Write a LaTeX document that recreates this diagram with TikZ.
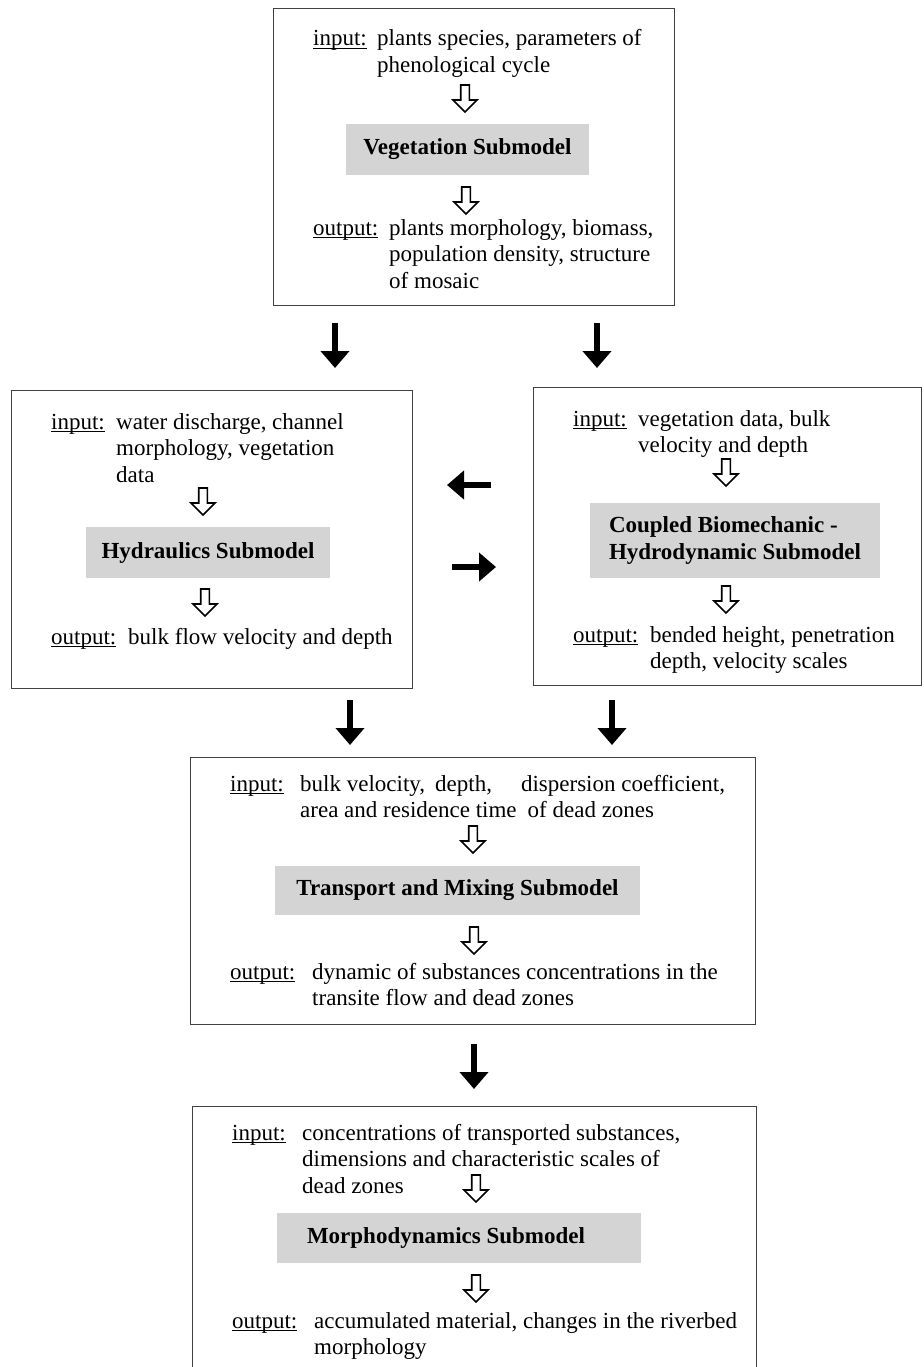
\documentclass[tikz,border=0pt]{standalone}
\usepackage{fontspec}
\setmainfont{Liberation Serif}
\usetikzlibrary{arrows.meta}

\newcommand{\textlines}[1]{\begin{tabular}[t]{@{}l@{}}#1\end{tabular}}
\newcommand{\uword}[1]{\setbox0\hbox{#1}\rlap{\rule[-2.6pt]{\wd0}{0.9pt}}\box0}

\begin{document}
\begin{tikzpicture}[x=1pt, y=-1pt,
    every node/.style={font=\fontsize{23}{26.5}\selectfont, inner sep=0pt},
    frame/.style={draw=black!75, line width=0.9pt},
    subbox/.style={fill=black!17, font=\fontsize{23}{26.5}\selectfont\bfseries},
    txt/.style={anchor=base west},
    bigarrow/.style={line width=6pt, -{Triangle[length=17pt,width=28pt]}},
    openarrow/.pic={\draw[line width=1.6pt, line join=miter, fill=white]
      (-4.3,0) -- (4.3,0) -- (4.3,15) -- (12,15) -- (0,27)
      -- (-12,15) -- (-4.3,15) -- cycle;}]
  \useasboundingbox (0,0) rectangle (923,1367);
  \clip (0,0) rectangle (923,1367);

  % vegetation
  \node[frame, minimum width=401pt, minimum height=297pt] (veg) at (473.5,156.5) {};
  \node[txt] (vegin) at (313,46) {\uword{input:}};
  \node[txt] (vegintxt) at (377,46) {\textlines{plants species, parameters of\\phenological cycle}};
  \pic at (465,85) {openarrow};
  \node[subbox, minimum width=243pt, minimum height=51pt] (vegsub) at (467.5,149.5) {Vegetation Submodel};
  \pic at (466,187) {openarrow};
  \node[txt] (vegout) at (313,235) {\uword{output:}};
  \node[txt] (vegouttxt) at (389,235) {\textlines{plants morphology, biomass,\\population density, structure\\of mosaic}};

  % hydraulics
  \node[frame, minimum width=401pt, minimum height=298pt] (hyd) at (211.5,539) {};
  \node[txt] (hydin) at (51,429) {\uword{input:}};
  \node[txt] (hydintxt) at (116,429) {\textlines{water discharge, channel\\morphology, vegetation\\data}};
  \pic at (203,488) {openarrow};
  \node[subbox, minimum width=244pt, minimum height=51pt] (hydsub) at (208,552.5) {Hydraulics Submodel};
  \pic at (205,589) {openarrow};
  \node[txt] (hydout) at (51,644) {\uword{output:}};
  \node[txt] (hydouttxt) at (128,644) {bulk flow velocity and depth};

  % coupled biomechanic - hydrodynamic
  \node[frame, minimum width=388pt, minimum height=298pt] (cpl) at (727,536) {};
  \node[txt] (cplin) at (573,426) {\uword{input:}};
  \node[txt] (cplintxt) at (638,426) {\textlines{vegetation data, bulk\\velocity and depth}};
  \pic at (726,459) {openarrow};
  \node[subbox, align=left, minimum width=290pt, minimum height=75pt] (cplsub) at (735,540.5) {Coupled Biomechanic -\\Hydrodynamic Submodel};
  \pic at (726,586) {openarrow};
  \node[txt] (cplout) at (573,642) {\uword{output:}};
  \node[txt] (cplouttxt) at (650,642) {\textlines{bended height, penetration\\depth, velocity scales}};

  % transport and mixing
  \node[frame, minimum width=565pt, minimum height=267pt] (trm) at (472.5,890.5) {};
  \node[txt] (trmin) at (230,791) {\uword{input:}};
  \node[txt] (trmintxt) at (300,791) {\textlines{bulk velocity,\hspace{10pt}depth,\hspace{29pt}dispersion coefficient,\\area and residence time\hspace{11pt}of dead zones}};
  \pic at (473,826) {openarrow};
  \node[subbox, minimum width=365pt, minimum height=49pt] (trmsub) at (457.5,890.5) {Transport and Mixing Submodel};
  \pic at (474,927) {openarrow};
  \node[txt] (trmout) at (230,979) {\uword{output:}};
  \node[txt] (trmouttxt) at (312,979) {\textlines{dynamic of substances concentrations in the\\transite flow and dead zones}};

  % morphodynamics
  \node[frame, minimum width=564pt, minimum height=300pt] (mor) at (474,1256) {};
  \node[txt] (morin) at (232,1140) {\uword{input:}};
  \node[txt] (morintxt) at (302,1140) {\textlines{concentrations of transported substances,\\dimensions and characteristic scales of\\dead zones}};
  \pic at (476,1175) {openarrow};
  \node[subbox, minimum width=364pt, minimum height=50pt] (morsub) at (459,1238) {Morphodynamics Submodel\hspace*{26pt}};
  \pic at (476,1275) {openarrow};
  \node[txt] (morout) at (232,1328) {\uword{output:}};
  \node[txt] (morouttxt) at (314,1328) {\textlines{accumulated material, changes in the riverbed\\morphology}};

  % links between submodels
  \coordinate (v2h) at (335,323);  \coordinate (v2he) at (335,368);
  \coordinate (v2c) at (597,323);  \coordinate (v2ce) at (597,368);
  \coordinate (c2h) at (491,485);  \coordinate (c2he) at (447,485);
  \coordinate (h2c) at (452,567);  \coordinate (h2ce) at (496,567);
  \coordinate (h2t) at (350,700);  \coordinate (h2te) at (350,745);
  \coordinate (c2t) at (612,700);  \coordinate (c2te) at (612,745);
  \coordinate (t2m) at (474,1044); \coordinate (t2me) at (474,1089);
  \foreach \a in {v2h,v2c,c2h,h2c,h2t,c2t,t2m}
    \draw[bigarrow] (\a) -- (\a e);
\end{tikzpicture}
\end{document}
